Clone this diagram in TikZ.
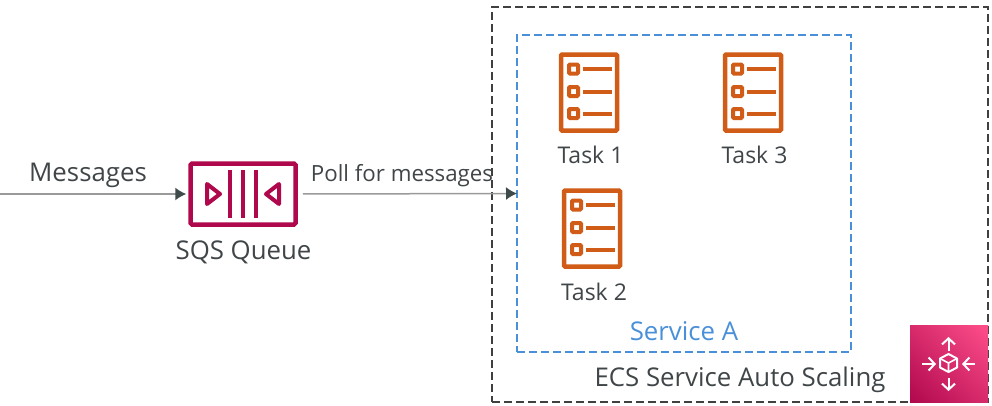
\documentclass[tikz,border=0pt]{standalone}
\usepackage{fontspec}
\setmainfont{Open Sans}
\usetikzlibrary{arrows.meta,shadings}
\definecolor{txtgray}{HTML}{404548}
\definecolor{linegray}{HTML}{9A9A9A}
\definecolor{tipgray}{HTML}{3F4A4A}
\definecolor{sqscol}{HTML}{B0084D}
\definecolor{taskcol}{HTML}{D05C17}
\definecolor{svcblue}{HTML}{4A90D9}
\definecolor{scalelow}{HTML}{B0084D}
\definecolor{scalemid}{HTML}{D72B6C}
\definecolor{scalehigh}{HTML}{FF4F8B}
\tikzset{
	label26/.style={font=\fontsize{25.8}{30}\selectfont,text=txtgray,inner sep=0pt},
	label23/.style={font=\fontsize{23}{28}\selectfont,text=txtgray,inner sep=0pt},
	flow/.style={line width=1.5pt,draw=linegray,-{Latex[length=11pt,width=13pt,color=tipgray]}},
	whitearrow/.style={white,line width=2pt,-{Straight Barb[length=6pt,width=13pt]}},
	pics/taskicon/.style={code={
		\draw [taskcol,line width=4.5pt,rounded corners=1pt] (-28,-38) rectangle (28,38);
		\foreach \yy in {-23.5,-1,21}{
			\draw [taskcol,line width=4pt,rounded corners=1pt] (-20,\yy-4.5) rectangle (-11,\yy+4.5);
			\draw [taskcol,line width=4pt] (-6,\yy) -- (23,\yy);
		}
	}}
}
\begin{document}
\begin{tikzpicture}[x=1pt,y=-1pt]
	\useasboundingbox (0,0) rectangle (992,405);
	% containers
	\node (scaling) [draw=black!75,dash pattern=on 8pt off 4pt,line width=2pt,minimum width=496pt,minimum height=395pt,inner sep=0pt] at (740,204.5) {};
	\node (servicea) [draw=svcblue,dash pattern=on 8pt off 4pt,line width=2pt,minimum width=334pt,minimum height=317pt,inner sep=0pt] at (684,193.5) {};
	% queue
	\node (sqs) [draw=sqscol,line width=4.5pt,rounded corners=1.5pt,minimum width=105pt,minimum height=61pt,inner sep=0pt] at (243,194) {};
	\foreach \xx in {230,243,256}{
		\draw [sqscol,line width=4pt] (\xx,170) -- (\xx,218);
	}
	\draw [sqscol,line width=4pt,line join=round] (207,184) -- (220,194) -- (207,204) -- cycle;
	\draw [sqscol,line width=4pt,line join=round] (279,184) -- (266,194) -- (279,204) -- cycle;
	% tasks
	\pic (taskone) at (589,92.5) {taskicon};
	\pic (taskthree) at (753,92.5) {taskicon};
	\pic (tasktwo) at (592,228.5) {taskicon};
	% scaling icon
	\shade [lower left=scalelow,upper right=scalehigh,upper left=scalemid,lower right=scalemid] (910,325) rectangle (988,402);
	\draw [white,line width=2pt,line join=round] (948.5,354) -- (957,358.5) -- (957,367.5) -- (948.5,372) -- (940,367.5) -- (940,358.5) -- cycle;
	\draw [white,line width=1.6pt,line join=round] (940,358.5) -- (948.5,363) -- (957,358.5) (948.5,363) -- (948.5,372);
	\coordinate (ctop) at (948.5,351);
	\coordinate (cbot) at (948.5,378);
	\coordinate (cleft) at (936,364);
	\coordinate (cright) at (962,364);
	\coordinate (ftop) at (948.5,337);
	\coordinate (fbot) at (948.5,391);
	\coordinate (fleft) at (922,364);
	\coordinate (fright) at (975,364);
	\draw [whitearrow] (ctop) -- (ftop);
	\draw [whitearrow] (cbot) -- (fbot);
	\draw [whitearrow] (fleft) -- (cleft);
	\draw [whitearrow] (fright) -- (cright);
	% arrows
	\coordinate (start) at (0,194);
	\draw [flow,shorten >=2pt] (start) -- (sqs.west);
	\draw [flow,shorten <=5pt,shorten >=-1pt] (sqs.east) -- (servicea.west);
	% labels
	\node (msg) [label26] at (88,175) {Messages};
	\node (poll) [label23,font=\fontsize{22.3}{28}\selectfont] at (402,175.5) {Poll for messages};
	\node (sqslabel) [label26] at (243.5,252.5) {SQS Queue};
	\node (taskonelabel) [label23] at (590.5,155) {Task 1};
	\node (taskthreelabel) [label23] at (754.5,155) {Task 3};
	\node (tasktwolabel) [label23] at (594,292) {Task 2};
	\node (servicelabel) [label26,text=svcblue] at (684,331) {Service A};
	\node (scalinglabel) [label26] at (740,380) {ECS Service Auto Scaling};
\end{tikzpicture}
\end{document}
